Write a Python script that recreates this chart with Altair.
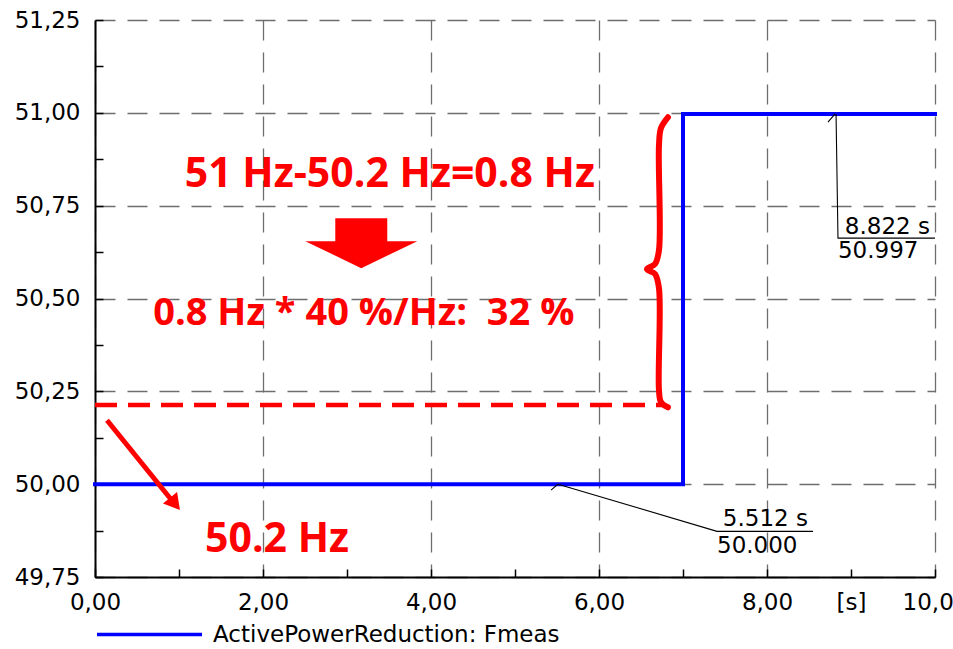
import altair as alt
import pandas as pd

# ---- measured series ----
series_name = "ActivePowerReduction: Fmeas"
t_s = [0.0, 7.0, 7.0, 10.0]
f_hz = [50.0, 50.0, 50.997, 50.997]

# ---- axis ticks ----
x_major = [0, 2, 4, 6, 8, 10]
x_all = [0, 1, 2, 3, 4, 5, 6, 7, 8, 9, 10]
x_unit_at = 9
x_unit_label = "[s]"
y_major = [49.75, 50.0, 50.25, 50.5, 50.75, 51.0, 51.25]
y_all = [49.75, 49.875, 50.0, 50.125, 50.25, 50.375, 50.5, 50.625,
         50.75, 50.875, 51.0, 51.125, 51.25]

# ---- annotations (data coordinates) ----
dash_x = [0.0, 6.76]
dash_y = [50.213, 50.213]

arrow_x = [0.143, 0.93]
arrow_y = [50.172, 49.952]
arrowhead_x = [0.952]
arrowhead_y = [49.947]

block_arrow_x = [3.17]
block_arrow_y = [50.649]

brace_x = [6.82, 6.738, 6.714, 6.714, 6.667, 6.571, 6.667, 6.714, 6.714, 6.738, 6.82]
brace_y = [50.988, 50.959, 50.913, 50.630, 50.593, 50.579, 50.566, 50.528, 50.253, 50.221, 50.207]

red_texts = ["51 Hz-50.2 Hz=0.8 Hz", "0.8 Hz * 40 %/Hz:\u00a0 32 %", "50.2 Hz"]
red_text_x = [3.51, 3.20, 1.31]
red_text_y = [50.80, 50.428, 49.817]
red_text_size = [41, 38, 41]
red_text_align = ["center", "center", "left"]

leader_id = ["a", "a", "a", "b", "b", "c", "c", "c", "d", "d"]
leader_x = [8.822, 8.845, 10.0, 8.726, 8.81, 5.512, 7.405, 8.548, 5.429, 5.512]
leader_y = [50.997, 50.6625, 50.6625, 50.975, 50.997, 50.0, 49.873, 49.873, 49.984, 50.0]

label_texts = ["8.822 s", "50.997", "5.512 s", "50.000"]
label_x = [9.94, 8.845, 8.488, 7.405]
label_y = [50.673, 50.609, 49.887, 49.814]
label_align = ["right", "left", "right", "left"]

xs = alt.Scale(domain=[0, 10], nice=False, zero=False)
ys = alt.Scale(domain=[49.75, 51.25], nice=False, zero=False)

RED = "#ff0000"
GRID = "#6e6e6e"
FONT = "DejaVu Sans"
comma_fmt = "replace(format(datum.value, '.2f'), '.', ',')"

# main axes: domain, labels, dashed grid (major only)
x_axis = alt.Axis(
    orient="bottom", values=x_major, title=None, labelExpr=comma_fmt,
    labelFont=FONT, labelFontSize=23, labelColor="black",
    labelFlush=False, labelOverlap=False, labelPadding=14,
    domainColor="black", domainWidth=2, ticks=False,
    grid=True, gridColor=GRID, gridWidth=1.3, gridDash=[20, 12],
)
y_axis = alt.Axis(
    orient="left", values=y_major, title=None, labelExpr=comma_fmt,
    labelFont=FONT, labelFontSize=23, labelColor="black",
    labelFlush=False, labelOverlap=False, labelPadding=15,
    domainColor="black", domainWidth=2, ticks=False,
    grid=True, gridColor=GRID, gridWidth=1.3, gridDash=[20, 12],
)
# tick axes: moved inside the plot so that the ticks point inward
x_tick_axis = alt.Axis(
    orient="bottom", values=x_all, title=None, offset=-8,
    labelExpr="datum.value == %d ? '%s' : ''" % (x_unit_at, x_unit_label),
    labelFont=FONT, labelFontSize=23, labelColor="black",
    labelFlush=False, labelOverlap=False, labelPadding=14,
    domain=False, grid=False, tickColor="black", tickWidth=1.5, tickSize=8,
)
y_tick_axis = alt.Axis(
    orient="left", values=y_all, title=None, offset=-8, labels=False,
    domain=False, grid=False, tickColor="black", tickWidth=1.5, tickSize=8,
)

series_df = pd.DataFrame({"t": t_s, "f": f_hz, "series": series_name,
                          "order": list(range(len(t_s)))})

base = alt.Chart(series_df).mark_line(strokeWidth=4, strokeCap="square").encode(
    x=alt.X("t:Q", scale=xs, axis=x_axis),
    y=alt.Y("f:Q", scale=ys, axis=y_axis),
    order="order:Q",
    color=alt.Color("series:N", scale=alt.Scale(range=["#0000ff"]),
                    legend=alt.Legend(
                        title=None, orient="none", legendX=0, legendY=560,
                        symbolType="stroke", symbolSize=11025,
                        symbolStrokeWidth=3.5, labelFont=FONT,
                        labelFontSize=23, labelColor="black", labelLimit=0,
                        labelOffset=9, padding=0)),
)

def X(field):
    return alt.X(field, scale=xs, axis=None)

def Y(field):
    return alt.Y(field, scale=ys, axis=None)

dash = alt.Chart(pd.DataFrame({"x": dash_x, "y": dash_y})).mark_line(
    color=RED, strokeWidth=4.5, strokeDash=[22, 11]).encode(x=X("x:Q"), y=Y("y:Q"))

arrow = alt.Chart(pd.DataFrame({"x": arrow_x, "y": arrow_y})).mark_line(
    color=RED, strokeWidth=5).encode(x=X("x:Q"), y=Y("y:Q"))

head = alt.Chart(pd.DataFrame({"x": arrowhead_x, "y": arrowhead_y})).mark_point(
    shape="triangle-up", filled=True, opacity=1, color=RED, size=330, angle=141
).encode(x=X("x:Q"), y=Y("y:Q"))

block_path = ("M -0.464 -0.446 L 0.464 -0.446 L 0.464 -0.036 L 1 -0.036 "
              "L 0 0.446 L -1 -0.036 L -0.464 -0.036 Z")
block = alt.Chart(pd.DataFrame({"x": block_arrow_x, "y": block_arrow_y})).mark_point(
    shape=block_path, filled=True, opacity=1, color=RED, size=12544, strokeWidth=0
).encode(x=X("x:Q"), y=Y("y:Q"))

brace = alt.Chart(pd.DataFrame({"x": brace_x, "y": brace_y,
                                "o": list(range(len(brace_x)))})).mark_line(
    color=RED, strokeWidth=6, interpolate="catmull-rom", strokeCap="round"
).encode(x=X("x:Q"), y=Y("y:Q"), order="o:Q")

red_df = pd.DataFrame({"x": red_text_x, "y": red_text_y, "txt": red_texts,
                       "al": red_text_align, "fs": red_text_size})
red_layers = []
for al in ["center", "left"]:
    red_layers.append(
        alt.Chart(red_df[red_df["al"] == al]).mark_text(
            font="Open Sans", fontWeight="bold", color=RED,
            align=al, baseline="alphabetic"
        ).encode(x=X("x:Q"), y=Y("y:Q"), text="txt:N",
                 size=alt.Size("fs:Q", scale=None, legend=None)))

leaders = alt.Chart(pd.DataFrame({"x": leader_x, "y": leader_y, "id": leader_id,
                                  "o": list(range(len(leader_x)))})).mark_line(
    color="black", strokeWidth=1.1).encode(
    x=alt.X("x:Q", scale=xs, axis=x_tick_axis),
    y=alt.Y("y:Q", scale=ys, axis=y_tick_axis),
    detail="id:N", order="o:Q")

lab_df = pd.DataFrame({"x": label_x, "y": label_y, "txt": label_texts, "al": label_align})
lab_layers = []
for al in ["left", "right"]:
    lab_layers.append(
        alt.Chart(lab_df[lab_df["al"] == al]).mark_text(
            font=FONT, fontSize=23, color="black", align=al, baseline="alphabetic"
        ).encode(x=X("x:Q"), y=Y("y:Q"), text="txt:N"))

chart = alt.layer(
    base, leaders, dash, brace, arrow, head, block, *red_layers, *lab_layers
).resolve_axis(x="independent", y="independent").properties(
    width=840, height=557,
    autosize=alt.AutoSizeParams(type="none"),
    padding={"left": 95, "top": 20, "right": 18, "bottom": 72},
    background="white",
).configure_view(stroke=None)

chart.save("out.html", embed_options={"renderer": "svg", "actions": False})
